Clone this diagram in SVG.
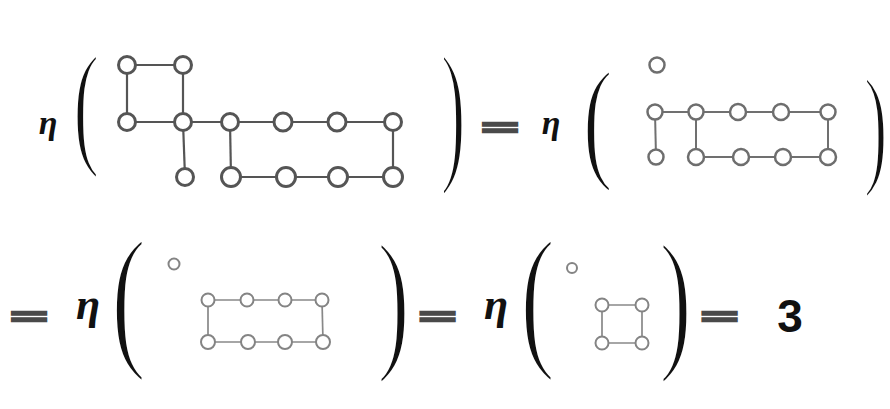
<svg xmlns="http://www.w3.org/2000/svg" width="890" height="409" viewBox="0 0 890 409">
<style>
.bg{fill:#ffffff}
.eta{font-family:"Liberation Serif",serif;font-style:italic;font-weight:bold;fill:#111;text-anchor:middle}
.par{font-family:"Liberation Serif",serif;font-size:60px;fill:#111;stroke:#fff;stroke-width:1.4}
.eq{font-family:"Liberation Sans",sans-serif;font-weight:bold;font-size:42px;fill:#4a4a4a;stroke:#4a4a4a;stroke-width:4;text-anchor:middle}
.num{font-family:"Liberation Sans",sans-serif;font-weight:bold;font-size:46px;fill:#111;text-anchor:middle}
.n1{fill:#fff;stroke:#555;stroke-width:3}
.n2{fill:#fff;stroke:#6e6e6e;stroke-width:2.5}
.n3{fill:#fff;stroke:#848484;stroke-width:2}
.e1{stroke:#555;stroke-width:2.2;fill:none}
.e2{stroke:#707070;stroke-width:2;fill:none}
.e3{stroke:#888;stroke-width:1.7;fill:none}
</style>
<rect class="bg" x="0" y="0" width="890" height="409"/>

<g id="symbols">
  <text class="eta" x="48" y="134" font-size="34">η</text>
  <text class="par" transform="translate(73.3,149.7) scale(1.30,2.30)">(</text>
  <text class="par" transform="translate(440.8,163.1) scale(1.24,2.63)">)</text>
  <text class="eq" transform="translate(500,135.6) scale(1.45,0.58)">=</text>
  <text class="eta" x="551" y="134" font-size="34">η</text>
  <text class="par" transform="translate(582.7,164) scale(1.50,2.26)">(</text>
  <text class="par" transform="translate(864,170.4) scale(1.17,2.22)">)</text>

  <text class="eq" transform="translate(29,325.1) scale(1.45,0.58)">=</text>
  <text class="eta" x="88" y="319" font-size="44">η</text>
  <text class="par" transform="translate(110.9,349.1) scale(1.76,2.63)">(</text>
  <text class="par" transform="translate(377.2,351.1) scale(1.63,2.63)">)</text>
  <text class="eq" transform="translate(437.5,325.1) scale(1.45,0.58)">=</text>
  <text class="eta" x="496" y="319" font-size="44">η</text>
  <text class="par" transform="translate(519.9,349.1) scale(1.76,2.63)">(</text>
  <text class="par" transform="translate(659.2,351.2) scale(1.63,2.61)">)</text>
  <text class="eq" transform="translate(719.5,325.1) scale(1.45,0.58)">=</text>
  <text class="num" x="790" y="332">3</text>
</g>

<g id="connectors">
  <!-- graph 1 -->
  <line class="e1" x1="127" y1="65" x2="183" y2="65"/>
  <line class="e1" x1="127" y1="65" x2="127" y2="122"/>
  <line class="e1" x1="183" y1="65" x2="183" y2="122"/>
  <line class="e1" x1="127" y1="122" x2="183" y2="122"/>
  <line class="e1" x1="183" y1="122" x2="230" y2="122"/>
  <line class="e1" x1="230" y1="122" x2="283" y2="122"/>
  <line class="e1" x1="283" y1="122" x2="337" y2="122"/>
  <line class="e1" x1="337" y1="122" x2="393" y2="122"/>
  <line class="e1" x1="183" y1="122" x2="185" y2="177"/>
  <line class="e1" x1="230" y1="122" x2="231" y2="177"/>
  <line class="e1" x1="393" y1="122" x2="393" y2="177"/>
  <line class="e1" x1="231" y1="177" x2="286" y2="177"/>
  <line class="e1" x1="286" y1="177" x2="338" y2="177"/>
  <line class="e1" x1="338" y1="177" x2="393" y2="177"/>
  <!-- graph 2 -->
  <line class="e2" x1="655" y1="112" x2="696" y2="112"/>
  <line class="e2" x1="696" y1="112" x2="738" y2="112"/>
  <line class="e2" x1="738" y1="112" x2="781" y2="112"/>
  <line class="e2" x1="781" y1="112" x2="828" y2="112"/>
  <line class="e2" x1="655" y1="112" x2="656" y2="157"/>
  <line class="e2" x1="696" y1="112" x2="696" y2="157"/>
  <line class="e2" x1="828" y1="112" x2="828" y2="157"/>
  <line class="e2" x1="696" y1="157" x2="741" y2="157"/>
  <line class="e2" x1="741" y1="157" x2="783" y2="157"/>
  <line class="e2" x1="783" y1="157" x2="828" y2="157"/>
  <!-- graph 3 -->
  <line class="e3" x1="208" y1="300" x2="247" y2="300"/>
  <line class="e3" x1="247" y1="300" x2="285" y2="300"/>
  <line class="e3" x1="285" y1="300" x2="322" y2="300"/>
  <line class="e3" x1="208" y1="300" x2="208" y2="342"/>
  <line class="e3" x1="322" y1="300" x2="323" y2="342"/>
  <line class="e3" x1="208" y1="342" x2="248" y2="342"/>
  <line class="e3" x1="248" y1="342" x2="285" y2="342"/>
  <line class="e3" x1="285" y1="342" x2="323" y2="342"/>
  <!-- graph 4 -->
  <line class="e3" x1="602" y1="305" x2="642" y2="305"/>
  <line class="e3" x1="602" y1="305" x2="602" y2="343"/>
  <line class="e3" x1="642" y1="305" x2="642" y2="343"/>
  <line class="e3" x1="602" y1="343" x2="642" y2="343"/>
</g>

<g id="graph1">
  <g id="g1-a1"><circle class="n1" cx="127" cy="65" r="8.5"/></g>
  <g id="g1-a2"><circle class="n1" cx="183" cy="65" r="8.5"/></g>
  <g id="g1-b1"><circle class="n1" cx="127" cy="122" r="8.5"/></g>
  <g id="g1-b2"><circle class="n1" cx="183" cy="122" r="8.5"/></g>
  <g id="g1-b3"><circle class="n1" cx="230" cy="122" r="8.5"/></g>
  <g id="g1-b4"><circle class="n1" cx="283" cy="122" r="9"/></g>
  <g id="g1-b5"><circle class="n1" cx="337" cy="122" r="9"/></g>
  <g id="g1-b6"><circle class="n1" cx="393" cy="122" r="8.5"/></g>
  <g id="g1-c1"><circle class="n1" cx="185" cy="177" r="8.5"/></g>
  <g id="g1-c2"><circle class="n1" cx="231" cy="177" r="9.5"/></g>
  <g id="g1-c3"><circle class="n1" cx="286" cy="177" r="9.5"/></g>
  <g id="g1-c4"><circle class="n1" cx="338" cy="177" r="9.5"/></g>
  <g id="g1-c5"><circle class="n1" cx="393" cy="177" r="9.5"/></g>
</g>

<g id="graph2">
  <g id="g2-iso"><circle class="n2" cx="657" cy="65" r="7.5"/></g>
  <g id="g2-t1"><circle class="n2" cx="655" cy="112" r="7.5"/></g>
  <g id="g2-t2"><circle class="n2" cx="696" cy="112" r="7.5"/></g>
  <g id="g2-t3"><circle class="n2" cx="738" cy="112" r="8"/></g>
  <g id="g2-t4"><circle class="n2" cx="781" cy="112" r="8"/></g>
  <g id="g2-t5"><circle class="n2" cx="828" cy="112" r="7.5"/></g>
  <g id="g2-u1"><circle class="n2" cx="656" cy="157" r="7.5"/></g>
  <g id="g2-u2"><circle class="n2" cx="696" cy="157" r="8"/></g>
  <g id="g2-u3"><circle class="n2" cx="741" cy="157" r="8"/></g>
  <g id="g2-u4"><circle class="n2" cx="783" cy="157" r="8"/></g>
  <g id="g2-u5"><circle class="n2" cx="828" cy="157" r="8"/></g>
</g>

<g id="graph3">
  <g id="g3-iso"><circle class="n3" cx="174" cy="264" r="5.5"/></g>
  <g id="g3-p1"><circle class="n3" cx="208" cy="300" r="6.5"/></g>
  <g id="g3-p2"><circle class="n3" cx="247" cy="300" r="6.5"/></g>
  <g id="g3-p3"><circle class="n3" cx="285" cy="300" r="6.5"/></g>
  <g id="g3-p4"><circle class="n3" cx="322" cy="300" r="6.5"/></g>
  <g id="g3-q1"><circle class="n3" cx="208" cy="342" r="7"/></g>
  <g id="g3-q2"><circle class="n3" cx="248" cy="342" r="7"/></g>
  <g id="g3-q3"><circle class="n3" cx="285" cy="342" r="7"/></g>
  <g id="g3-q4"><circle class="n3" cx="323" cy="342" r="7"/></g>
</g>

<g id="graph4">
  <g id="g4-iso"><circle class="n3" cx="572" cy="268" r="5"/></g>
  <g id="g4-s1"><circle class="n3" cx="602" cy="305" r="6.5"/></g>
  <g id="g4-s2"><circle class="n3" cx="642" cy="305" r="6.5"/></g>
  <g id="g4-s3"><circle class="n3" cx="602" cy="343" r="6.5"/></g>
  <g id="g4-s4"><circle class="n3" cx="642" cy="343" r="6.5"/></g>
</g>
</svg>
